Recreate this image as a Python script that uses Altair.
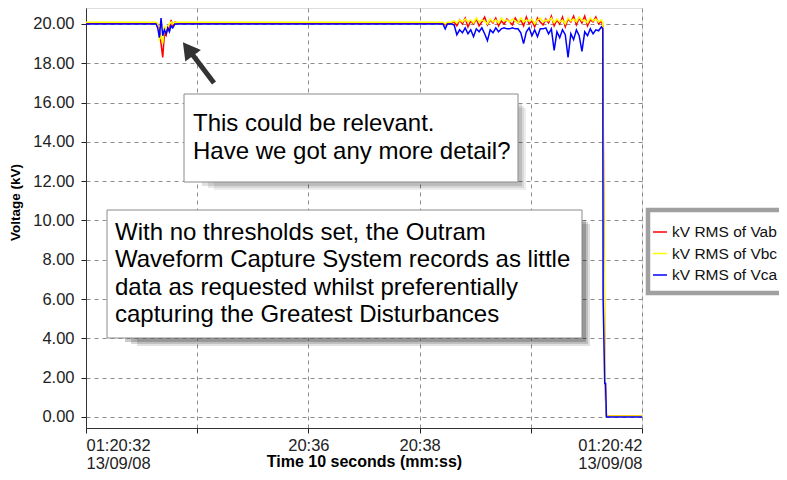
import altair as alt
import pandas as pd

SERIES = ["kV RMS of Vab", "kV RMS of Vbc", "kV RMS of Vca"]
COLORS = ["#FF0000", "#FFFF00", "#0000FF"]

# time in seconds after 01:20:00
TIME = [
    32.00,
    33.26, 33.29, 33.32, 33.35, 33.38, 33.41, 33.44, 33.47, 33.50, 33.53, 33.56, 33.60, 33.65,
    38.42, 38.46, 38.50, 38.57,
    38.62, 38.67, 38.72, 38.77, 38.82, 38.87, 38.92, 38.97, 39.02, 39.07,
    39.12, 39.17, 39.22, 39.27, 39.32, 39.37, 39.42, 39.47, 39.52, 39.57,
    39.62, 39.67, 39.72, 39.77, 39.82, 39.87, 39.92, 39.97, 40.02, 40.07,
    40.12, 40.17, 40.22, 40.27, 40.32, 40.37, 40.42, 40.47, 40.52, 40.57,
    40.62, 40.67, 40.72, 40.77, 40.82, 40.87, 40.92, 40.97, 41.02, 41.07,
    41.12, 41.17, 41.22, 41.27,
    41.295, 41.30, 41.33, 41.345, 41.36, 42.00,
]

VAB = [
    20.04,
    20.04, 20.00, 19.70, 19.00, 18.30, 19.50, 19.40, 19.80, 19.70, 20.20, 19.90, 20.10, 20.04,
    20.04, 19.95, 20.04, 20.04,
    20.10, 19.90, 20.20, 20.00, 20.30, 19.85, 20.15, 20.00, 20.25, 19.90,
    20.10, 20.35, 19.95, 20.20, 20.05, 20.30, 19.90, 20.15, 20.00, 20.25,
    20.10, 19.95, 20.30, 20.05, 20.20, 19.90, 20.35, 20.00, 20.15, 19.85,
    20.30, 20.10, 19.95, 20.25, 20.05, 20.40, 19.90, 20.20, 20.00, 20.35,
    19.85, 20.25, 20.10, 20.40, 19.95, 20.30, 20.05, 20.40, 19.90, 20.20,
    20.10, 20.35, 20.00, 20.15,
    19.90, 16.30, 2.90, 0.90, 0.05, 0.05,
]

VBC = [
    20.08,
    20.08, 20.00, 19.20, 19.40, 19.00, 19.90, 19.70, 19.90, 20.00, 20.10, 20.00, 20.10, 20.08,
    20.08, 20.00, 20.08, 20.08,
    20.15, 20.05, 20.20, 20.10, 20.25, 20.10, 20.20, 20.05, 20.30, 20.10,
    20.20, 20.15, 20.00, 20.25, 20.10, 20.20, 20.05, 20.30, 20.15, 20.20,
    20.10, 20.25, 20.15, 20.05, 20.30, 20.10, 20.20, 20.15, 20.25, 20.00,
    20.20, 20.30, 20.10, 20.20, 20.15, 20.30, 20.05, 20.25, 20.10, 20.20,
    20.00, 20.30, 20.15, 20.25, 20.10, 20.35, 20.15, 20.20, 20.05, 20.30,
    20.15, 20.25, 20.10, 20.20,
    20.05, 15.20, 3.60, 1.00, 0.05, 0.05,
]

VCA = [
    20.00,
    20.00, 19.80, 19.30, 20.30, 19.40, 19.70, 19.50, 19.80, 19.60, 19.90, 19.80, 20.00, 20.00,
    20.00, 19.75, 20.00, 20.00,
    19.95, 19.45, 19.70, 19.55, 19.80, 19.50, 19.70, 19.35, 19.75, 19.60,
    19.80, 19.50, 19.15, 19.70, 19.55, 19.80, 19.60, 19.75, 19.80, 19.75,
    19.75, 19.80, 19.75, 19.75, 19.55, 19.00, 19.60, 19.80, 19.40, 19.70,
    19.35, 19.75, 19.75, 19.80, 19.50, 19.75, 18.65, 19.60, 19.30, 19.70,
    19.45, 18.30, 19.50, 19.20, 19.70, 19.40, 18.60, 19.60, 19.40, 19.75,
    19.50, 19.70, 19.65, 19.85,
    19.75, 6.10, 1.70, 1.70, 0.00, 0.00,
]

X_TICKS = [32, 34, 36, 38, 40, 42]
X_LABELS = [["01:20:32", "13/09/08"], "", "20:36", "20:38", "", ["01:20:42", "13/09/08"]]
Y_TICKS = [0, 2, 4, 6, 8, 10, 12, 14, 16, 18, 20]

NOTE1 = ["This could be relevant.", "Have we got any more detail?"]
NOTE2 = [
    "With no thresholds set, the Outram",
    "Waveform Capture System records as little",
    "data as requested whilst preferentially",
    "capturing the Greatest Disturbances",
]

FONT = "Liberation Sans"


def lab(v):
    if isinstance(v, list):
        return "[" + ", ".join("'" + s + "'" for s in v) + "]"
    return "'" + v + "'"


label_expr = ""
for t, l in zip(X_TICKS, X_LABELS):
    label_expr += f"datum.value == {t} ? {lab(l)} : "
label_expr += "''"

rows = []
for name, vals in zip(SERIES, [VAB, VBC, VCA]):
    for t, v in zip(TIME, vals):
        rows.append({"t": t, "v": v, "series": name})
df = pd.DataFrame(rows)

one = pd.DataFrame({"k": [0]})

lines = alt.Chart(df).mark_line(strokeWidth=1.5, clip=True).encode(
    x=alt.X(
        "t:Q",
        scale=alt.Scale(domain=[32, 42], nice=False, zero=False),
        axis=alt.Axis(
            values=X_TICKS,
            labelExpr=label_expr,
            labelFlush=True,
            labelOverlap=False,
            labelFont=FONT,
            labelFontSize=16.5,
            labelLineHeight=18.5,
            labelColor="#222222",
            labelPadding=4,
            tickSize=5,
            tickColor="#222222",
            domainColor="#333333",
            grid=True,
            gridDash=[4, 4],
            gridColor="#8c8c8c",
            title="Time 10 seconds (mm:ss)",
            titleFont=FONT,
            titleFontSize=16,
            titleFontWeight="bold",
            titleColor="#000000",
            titleY=38,
            titleBaseline="alphabetic",
        ),
    ),
    y=alt.Y(
        "v:Q",
        scale=alt.Scale(domain=[-0.56, 20.81], nice=False, zero=False),
        axis=alt.Axis(
            values=Y_TICKS,
            format=".2f",
            labelFont=FONT,
            labelFontSize=16.5,
            labelColor="#222222",
            labelPadding=7,
            tickSize=5,
            tickColor="#222222",
            domainColor="#333333",
            grid=True,
            gridDash=[4, 4],
            gridColor="#8c8c8c",
            title="Voltage (kV)",
            titleFont=FONT,
            titleFontSize=13.5,
            titleFontWeight="bold",
            titleColor="#000000",
            titleAngle=270,
            titleAlign="center",
            titleBaseline="middle",
            titleX=-71,
            titleY=194,
        ),
    ),
    color=alt.Color(
        "series:N",
        scale=alt.Scale(domain=SERIES, range=COLORS),
        legend=alt.Legend(
            title=None,
            orient="none",
            legendX=566,
            legendY=216,
            padding=0,
            symbolType="stroke",
            symbolSize=196,
            symbolStrokeWidth=1.5,
            labelFont=FONT,
            labelFontSize=15.5,
            labelColor="#111111",
            labelOffset=4,
            rowPadding=4.5,
        ),
    ),
    order=alt.Order("t:Q"),
)

legend_box = alt.Chart(one).mark_rect(
    fill="white", stroke="#a0a0a0", strokeWidth=4.5
).encode(x=alt.value(562), x2=alt.value(700), y=alt.value(202), y2=alt.value(285))


def note_box(x, x2, y, y2, dark):
    out = []
    for dx, dy, inx, iny, op in [(8, 8, 30, 14, 0.07), (6, 6, 24, 12, 0.09), (4, 4, 18, 10, 0.12)]:
        out.append(
            alt.Chart(one).mark_rect(fill="#000000", opacity=op * dark).encode(
                x=alt.value(x + inx), x2=alt.value(x2 + dx), y=alt.value(y + iny), y2=alt.value(y2 + dy)
            )
        )
    out.append(
        alt.Chart(one).mark_rect(fill="white", stroke="#8a8a8a", strokeWidth=1).encode(
            x=alt.value(x), x2=alt.value(x2), y=alt.value(y), y2=alt.value(y2)
        )
    )
    return out


note1_text = alt.Chart(one).mark_text(
    align="left", baseline="alphabetic", font=FONT, fontSize=24, lineHeight=28, color="#000000"
).encode(x=alt.value(107), y=alt.value(123), text=alt.value(NOTE1))

note2_text = alt.Chart(one).mark_text(
    align="left", baseline="alphabetic", font=FONT, fontSize=24, lineHeight=27.3, color="#000000"
).encode(x=alt.value(29), y=alt.value(232), text=alt.value(NOTE2))

arrow_shaft = alt.Chart(one).mark_rule(color="#333333", strokeWidth=5).encode(
    x=alt.value(128), y=alt.value(75), x2=alt.value(106), y2=alt.value(46)
)
arrow_head = alt.Chart(one).mark_point(
    shape="triangle-up", filled=True, color="#333333", opacity=1, size=380, angle=323
).encode(x=alt.value(102), y=alt.value(41))

layers = [lines, legend_box]
layers += note_box(98, 432, 86, 174, 1.0)
layers += note_box(21, 496, 202, 330, 1.7)
layers += [note1_text, note2_text, arrow_shaft, arrow_head]

chart = alt.layer(*layers).properties(
    width=556,
    height=420,
    autosize=alt.AutoSizeParams(type="none"),
    padding={"left": 78, "top": 0, "right": 137, "bottom": 44},
    background="white",
).configure_view(
    fill="#D8CC8E", stroke="#555555", strokeWidth=1
).configure(font=FONT)

chart.save("out.html", embed_options={"renderer": "svg", "actions": False})
